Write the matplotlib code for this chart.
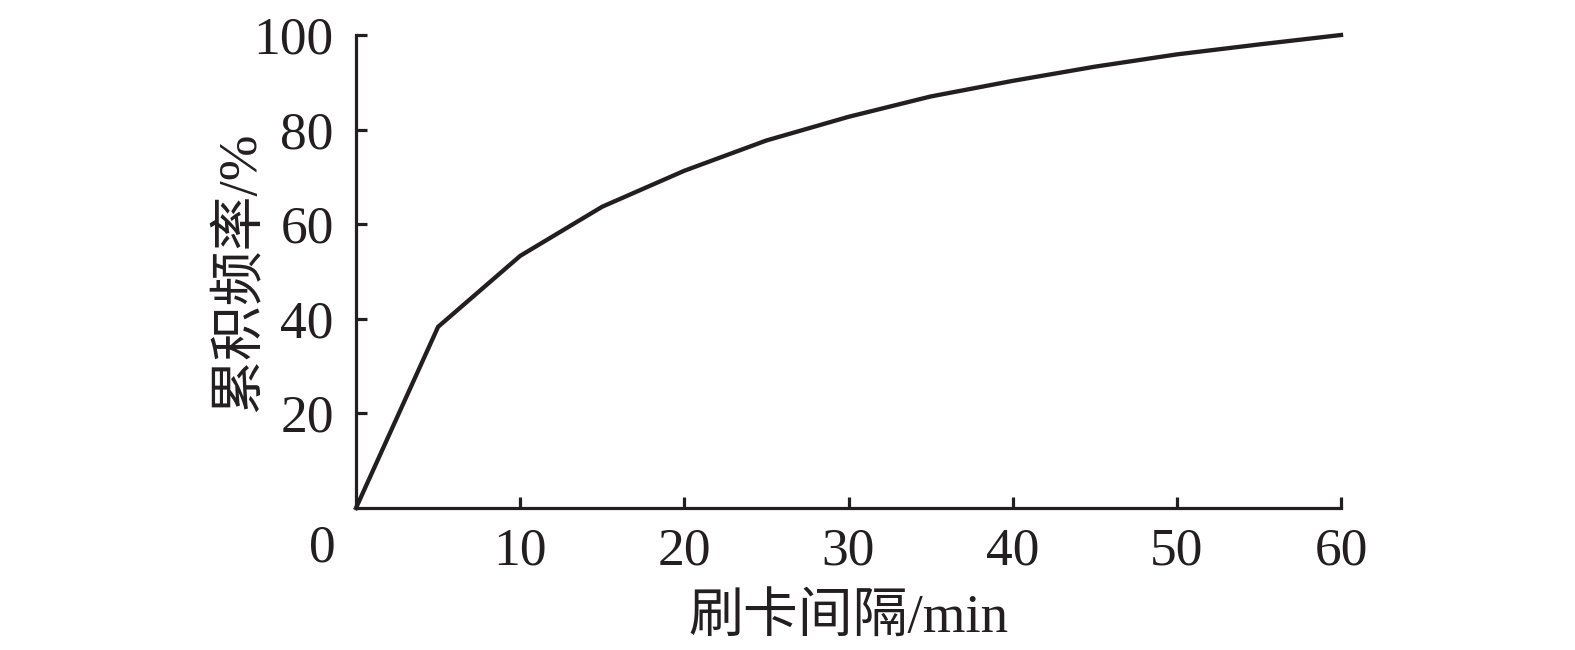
import matplotlib
matplotlib.use("Agg")
import matplotlib.pyplot as plt

# Data
interval_min = [0, 5, 10, 15, 20, 25, 30, 35, 40, 45, 50, 55, 60]
cum_freq = [0, 38.3, 53.3, 63.7, 71.3, 77.7, 82.7, 87.0, 90.3, 93.3, 95.9, 98.0, 100]
x_ticks = [10, 20, 30, 40, 50, 60]
y_ticks = [20, 40, 60, 80, 100]
x_label = "刷卡间隔/min"
y_label = "累积频率/%"

plt.rcParams['font.family'] = ['Liberation Serif', 'Noto Sans CJK SC']
ink = '#231f20'
fs = 38.5
lfs = 39.5

fig = plt.figure(figsize=(15.75, 6.5), dpi=100)
ax = fig.add_axes([356/1575, 1-508/650, (1341-356)/1575, (508-35)/650])

ax.plot(interval_min, cum_freq, color=ink, lw=3.1, solid_joinstyle='miter', clip_on=False)
ax.set_xlim(0, 60)
ax.set_ylim(0, 100)
for s in ['top', 'right']:
    ax.spines[s].set_visible(False)
for s in ['left', 'bottom']:
    ax.spines[s].set_linewidth(2.3)
    ax.spines[s].set_color(ink)
ax.set_xticks(x_ticks)
ax.set_yticks(y_ticks)
ax.tick_params(axis='both', direction='in', length=8, width=2.3, color=ink,
               labelsize=fs, labelcolor=ink)
ax.tick_params(axis='x', pad=14)
ax.tick_params(axis='y', pad=16)

ax.annotate("0", xy=(0, 0), xycoords='data', xytext=(-34*0.72, -40*0.72),
            textcoords='offset points', ha='center', va='center',
            fontsize=fs, color=ink)

fig.text(849/1575, 1-619/650, x_label, ha='center', va='center', fontsize=lfs, color=ink)
fig.text(240/1575, 1-271.5/650, y_label, ha='center', va='center', rotation=90,
         fontsize=lfs, color=ink)

fig.savefig("out.png", dpi=100)
